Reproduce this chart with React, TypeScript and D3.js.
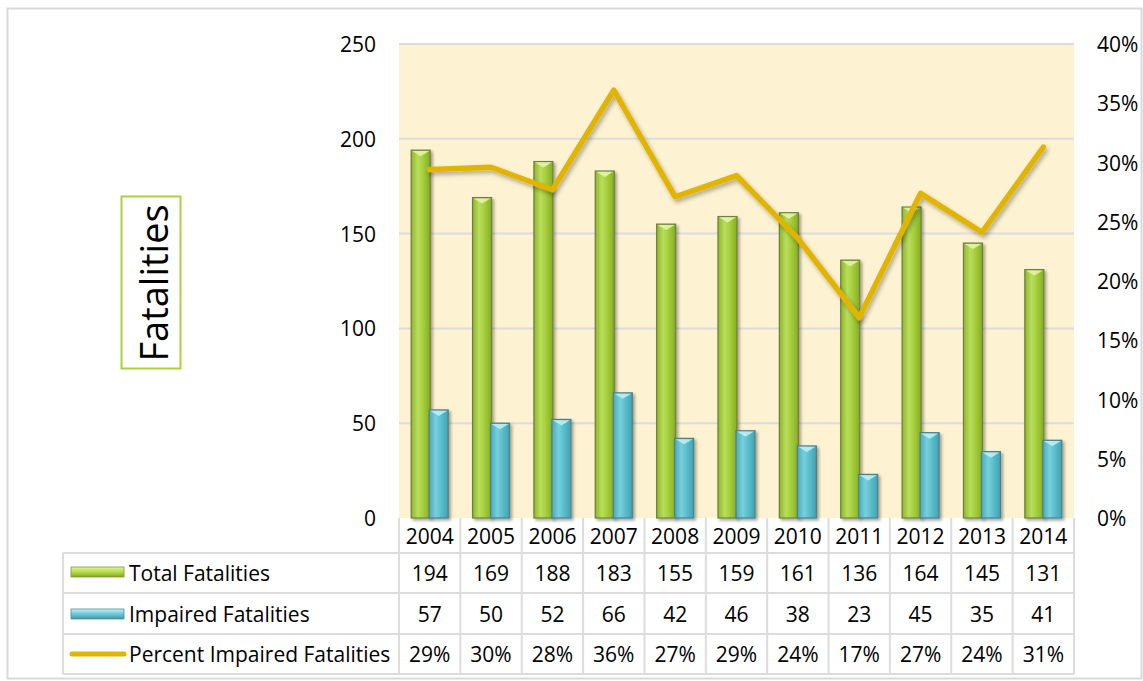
import React from "react";
import * as d3 from "d3";

const years = ["2004", "2005", "2006", "2007", "2008", "2009", "2010", "2011", "2012", "2013", "2014"];
const totalFatalities = [194, 169, 188, 183, 155, 159, 161, 136, 164, 145, 131];
const impairedFatalities = [57, 50, 52, 66, 42, 46, 38, 23, 45, 35, 41];
const percentImpaired = [29.4, 29.6, 27.7, 36.1, 27.1, 28.9, 23.6, 16.9, 27.4, 24.1, 31.3];
const percentLabels = ["29%", "30%", "28%", "36%", "27%", "29%", "24%", "17%", "27%", "24%", "31%"];
const leftTicks = [0, 50, 100, 150, 200, 250];
const rightTicks = [0, 5, 10, 15, 20, 25, 30, 35, 40];
const seriesNames = ["Total Fatalities", "Impaired Fatalities", "Percent Impaired Fatalities"];

const W = 1143;
const H = 681;
const plotL = 399;
const plotR = 1074;
const plotT = 44;
const plotB = 518;
const FONT = "'Open Sans', Lato, sans-serif";
const GRID = "#dcdcdc";
const FS = 21;

export default function App() {
  const x = d3.scaleBand<string>().domain(years).range([plotL, plotR]).padding(0);
  const y = d3.scaleLinear().domain([0, 250]).range([plotB, plotT]);
  const yr = d3.scaleLinear().domain([0, 40]).range([plotB, plotT]);
  const bw = 19;
  const cx = (yv: string) => (x(yv) as number) + x.bandwidth() / 2;

  const line = d3
    .line<number>()
    .x((_, i) => cx(years[i]))
    .y((d) => yr(d));

  const rows = [
    { y0: 553, y1: 593, values: totalFatalities.map(String) },
    { y0: 593, y1: 634, values: impairedFatalities.map(String) },
    { y0: 634, y1: 674, values: percentLabels },
  ];
  const headerTop = 518;
  const headerBot = 553;
  const legendL = 63;

  const bar = (v: number, xPos: number, kind: "g" | "b", key: string) => {
    const yt = y(v);
    const h = plotB - yt;
    const fill = kind === "g" ? "url(#gGreen)" : "url(#gBlue)";
    const stroke = kind === "g" ? "#6f7f3c" : "#4d7f88";
    const cap = kind === "g" ? "#e2f4a8" : "#bdeef5";
    return (
      <g key={key} filter="url(#barShadow)">
        <rect x={xPos} y={yt} width={bw} height={h} fill={fill} stroke={stroke} strokeWidth={1.2} />
        <path
          d={`M${xPos + 1},${yt + 0.8} L${xPos + bw - 1},${yt + 0.8} L${xPos + bw / 2},${yt + 6} Z`}
          fill={cap}
          opacity={0.9}
        />
      </g>
    );
  };

  return (
    <svg
      width={W}
      height={H}
      style={{ position: "absolute", left: 0, top: 0, background: "#fff" }}
      fontFamily={FONT}
    >
      <defs>
        <linearGradient id="gGreen" x1="0" x2="1" y1="0" y2="0">
          <stop offset="0" stopColor="#8db62a" />
          <stop offset="0.35" stopColor="#b9de5c" />
          <stop offset="0.6" stopColor="#a7d03f" />
          <stop offset="1" stopColor="#86ad22" />
        </linearGradient>
        <linearGradient id="gBlue" x1="0" x2="1" y1="0" y2="0">
          <stop offset="0" stopColor="#49a9b9" />
          <stop offset="0.35" stopColor="#79cfdc" />
          <stop offset="0.6" stopColor="#5dbfce" />
          <stop offset="1" stopColor="#43a2b2" />
        </linearGradient>
        <linearGradient id="lgGreen" x1="0" x2="0" y1="0" y2="1">
          <stop offset="0" stopColor="#e3f59a" />
          <stop offset="0.5" stopColor="#b5dc4a" />
          <stop offset="1" stopColor="#7fa322" />
        </linearGradient>
        <linearGradient id="lgBlue" x1="0" x2="0" y1="0" y2="1">
          <stop offset="0" stopColor="#c6f0f6" />
          <stop offset="0.5" stopColor="#6cc8d6" />
          <stop offset="1" stopColor="#3f97a6" />
        </linearGradient>
        <filter id="barShadow" x="-30%" y="-10%" width="170%" height="130%">
          <feDropShadow dx="2" dy="2" stdDeviation="1.6" floodColor="#000" floodOpacity="0.35" />
        </filter>
        <filter id="lineShadow" x="-10%" y="-10%" width="120%" height="130%">
          <feDropShadow dx="2" dy="3" stdDeviation="2" floodColor="#000" floodOpacity="0.3" />
        </filter>
      </defs>

      {/* outer border */}
      <rect x={7.5} y={8.5} width={1134} height={670} fill="#fff" stroke="#d9d9d9" strokeWidth={2} />

      {/* plot background */}
      <rect x={plotL} y={plotT} width={plotR - plotL} height={plotB - plotT} fill="#fdf2d1" />

      {/* gridlines */}
      {leftTicks
        .filter((t) => t > 0)
        .map((t) => (
          <line key={"g" + t} x1={plotL} x2={plotR} y1={y(t)} y2={y(t)} stroke={GRID} strokeWidth={2} />
        ))}

      {/* left axis labels */}
      {leftTicks.map((t) => (
        <text key={"l" + t} x={376} y={y(t)} textAnchor="end" dominantBaseline="central" fontSize={FS} fill="#000">
          {t}
        </text>
      ))}

      {/* right axis labels */}
      {rightTicks.map((t) => (
        <text key={"r" + t} x={1097} y={yr(t)} textAnchor="start" dominantBaseline="central" fontSize={FS} fill="#000">
          {t}%
        </text>
      ))}

      {/* bars */}
      {years.map((yv, i) => bar(totalFatalities[i], cx(yv) - 18.5, "g", "t" + yv))}
      {years.map((yv, i) => bar(impairedFatalities[i], cx(yv) - 0.5, "b", "i" + yv))}

      {/* line */}
      <path
        d={line(percentImpaired) || ""}
        fill="none"
        stroke="#e1b400"
        strokeWidth={5.5}
        strokeLinejoin="round"
        strokeLinecap="round"
        filter="url(#lineShadow)"
      />

      {/* y axis title */}
      <rect x={121.5} y={196.5} width={59} height={172} fill="#fff" stroke="#a9d13e" strokeWidth={2} />
      <text
        x={0}
        y={0}
        transform={`translate(153,283) rotate(-90)`}
        textAnchor="middle"
        dominantBaseline="central"
        fontSize={38}
        fill="#000"
      >
        Fatalities
      </text>

      {/* table */}
      <g stroke={GRID} strokeWidth={2} fill="none">
        <line x1={plotL} x2={plotR} y1={headerBot} y2={headerBot} />
        {years.map((yv) => (
          <line key={"hv" + yv} x1={x(yv) as number} x2={x(yv) as number} y1={headerTop} y2={headerBot} />
        ))}
        <line x1={plotR} x2={plotR} y1={headerTop} y2={headerBot} />
        {rows.map((r, ri) => (
          <line key={"rh" + ri} x1={legendL} x2={plotR} y1={r.y1} y2={r.y1} />
        ))}
        <line x1={legendL} x2={plotL} y1={headerBot} y2={headerBot} />
        <line x1={legendL} x2={legendL} y1={headerBot} y2={674} />
        {years.map((yv) => (
          <line key={"dv" + yv} x1={x(yv) as number} x2={x(yv) as number} y1={headerBot} y2={674} />
        ))}
        <line x1={plotR} x2={plotR} y1={headerBot} y2={674} />
      </g>

      {years.map((yv) => (
        <text
          key={"yl" + yv}
          x={cx(yv)}
          y={(headerTop + headerBot) / 2}
          textAnchor="middle"
          dominantBaseline="central"
          fontSize={FS}
          fill="#000"
        >
          {yv}
        </text>
      ))}

      {rows.map((r, ri) =>
        r.values.map((v, i) => (
          <text
            key={"v" + ri + i}
            x={cx(years[i])}
            y={(r.y0 + r.y1) / 2}
            textAnchor="middle"
            dominantBaseline="central"
            fontSize={FS}
            fill="#000"
          >
            {v}
          </text>
        ))
      )}

      {/* legend keys */}
      <rect x={71} y={567} width={53} height={10} fill="url(#lgGreen)" stroke="#7e9a33" strokeWidth={0.8} />
      <rect x={71} y={609} width={53} height={10} fill="url(#lgBlue)" stroke="#4d8d98" strokeWidth={0.8} />
      <line x1={72} x2={124} y1={654} y2={654} stroke="#e1b400" strokeWidth={5} strokeLinecap="round" />
      {seriesNames.map((s, i) => (
        <text
          key={"ln" + i}
          x={129}
          y={(rows[i].y0 + rows[i].y1) / 2}
          dominantBaseline="central"
          fontSize={FS}
          fill="#000"
        >
          {s}
        </text>
      ))}
    </svg>
  );
}
